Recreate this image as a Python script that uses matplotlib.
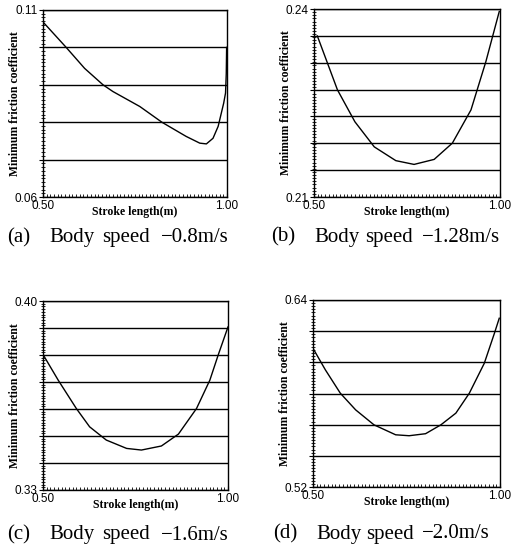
import matplotlib
matplotlib.use("Agg")
import matplotlib.pyplot as plt
import numpy as np
from matplotlib.ticker import FixedLocator, MultipleLocator, FuncFormatter

# ---- data ----
x_a = [0.500, 0.563, 0.613, 0.663, 0.690, 0.763, 0.823, 0.889, 0.926, 0.944, 0.962, 0.976, 0.991, 0.996, 0.998, 0.999]
y_a = [0.1068, 0.1000, 0.0944, 0.0900, 0.0882, 0.0842, 0.0800, 0.0762, 0.0744, 0.0742, 0.0757, 0.0789, 0.0851, 0.0878, 0.0930, 0.1000]

x_b = [0.509, 0.563, 0.610, 0.662, 0.720, 0.769, 0.823, 0.872, 0.922, 0.962, 0.998]
y_b = [0.2357, 0.2271, 0.2220, 0.2180, 0.2158, 0.2152, 0.2160, 0.2186, 0.2239, 0.2316, 0.2396]

x_c = [0.500, 0.541, 0.590, 0.626, 0.671, 0.726, 0.766, 0.820, 0.866, 0.915, 0.951, 0.974, 1.000]
y_c = [0.3802, 0.3707, 0.3602, 0.3534, 0.3485, 0.3454, 0.3448, 0.3463, 0.3507, 0.3602, 0.3707, 0.3802, 0.3904]

x_d = [0.500, 0.533, 0.573, 0.614, 0.663, 0.721, 0.757, 0.801, 0.842, 0.882, 0.918, 0.958, 0.985, 0.998]
y_d = [0.6090, 0.5952, 0.5802, 0.5695, 0.5599, 0.5535, 0.5529, 0.5542, 0.5599, 0.5674, 0.5802, 0.5994, 0.6186, 0.6283]

ylims = {"a": (0.06, 0.11), "b": (0.21, 0.24), "c": (0.33, 0.40), "d": (0.52, 0.64)}
ngrid = {"a": 5, "b": 7, "c": 7, "d": 6}
yminor = {"a": 0.001, "b": 0.0005, "c": 0.001, "d": 0.002}
# caption words: (a) / Body / speed / value
caption_tags = {"a": "(a)", "b": "(b)", "c": "(c)", "d": "(d)"}
caption_words = ["Body", "speed"]
caption_vals = {"a": "\u22120.8m/s", "b": "\u22121.28m/s", "c": "\u22121.6m/s", "d": "\u22122.0m/s"}
xlabel = "Stroke length(m)"
ylabel = "Minimum friction coefficient"
xlim = (0.50, 1.00)

W, H = 527, 558
fig = plt.figure(figsize=(W / 100, H / 100), dpi=100)

# axes boxes in pixels: left, right, top, bottom
boxes = {
    "a": (43, 227, 10, 197),
    "b": (314, 500, 9, 197),
    "c": (43, 228, 301, 490),
    "d": (313, 500, 300, 487),
}
# caption piece left edges (px) and centre y (px)
cap_x = {"a": (7, 49, 102, 161), "b": (271, 314, 365, 422),
         "c": (7, 49, 102, 161), "d": (273, 316, 366, 422)}
cap_y = {"a": 238, "b": 237, "c": 535, "d": 534}
data = {"a": (x_a, y_a), "b": (x_b, y_b), "c": (x_c, y_c), "d": (x_d, y_d)}

for key in ["a", "b", "c", "d"]:
    l, r, t, b = boxes[key]
    ax = fig.add_axes([l / W, 1 - b / H, (r - l) / W, (b - t) / H])
    xs, ys = data[key]
    ax.plot(xs, ys, color="black", lw=1.0)
    y0, y1 = ylims[key]
    ax.set_xlim(*xlim)
    ax.set_ylim(y0, y1)
    n = ngrid[key]
    levels = [y0 + (y1 - y0) * k / n for k in range(n + 1)]
    ax.yaxis.set_major_locator(FixedLocator(levels))
    ends = (levels[0], levels[-1])
    ax.yaxis.set_major_formatter(FuncFormatter(
        lambda v, p, e=ends: ("{:.2f}".format(v) if (abs(v - e[0]) < 1e-9 or abs(v - e[1]) < 1e-9) else "")))
    ax.yaxis.set_minor_locator(MultipleLocator(yminor[key]))
    ax.xaxis.set_major_locator(FixedLocator([0.5, 1.0]))
    ax.xaxis.set_major_formatter(FuncFormatter(lambda v, p: "{:.2f}".format(v)))
    ax.xaxis.set_minor_locator(MultipleLocator(0.01))
    ax.grid(axis="y", which="major", color="black", lw=1.0)
    for s in ax.spines.values():
        s.set_linewidth(1.0)
    ax.tick_params(axis="y", which="major", direction="out", length=3, width=0.8,
                   labelsize=8.5, pad=1)
    ax.tick_params(axis="y", which="minor", direction="inout", length=3, width=0.6)
    ax.tick_params(axis="x", which="major", direction="in", length=3, width=0.8,
                   labelsize=8.5, pad=2)
    ax.tick_params(axis="x", which="minor", direction="in", length=2.5, width=0.6)
    for lab in ax.get_xticklabels() + ax.get_yticklabels():
        lab.set_family("Liberation Sans")
    ax.set_xlabel(xlabel, fontsize=8.5, fontweight="bold", family="Liberation Serif")
    ax.set_ylabel(ylabel, fontsize=8.5, fontweight="bold", family="Liberation Serif")
    ax.yaxis.set_label_coords(-28 / (r - l), 0.5)
    ax.xaxis.set_label_coords(0.5, -15 / (b - t))
    ax.xaxis.label.set_va("center")
    ax.yaxis.label.set_va("center")
    pieces = [caption_tags[key]] + caption_words + [caption_vals[key]]
    for txt, px in zip(pieces, cap_x[key]):
        fig.text(px / W, 1 - cap_y[key] / H, txt, ha="left", va="center",
                 fontsize=15, family="Liberation Serif")

fig.savefig("out.png", dpi=100)
